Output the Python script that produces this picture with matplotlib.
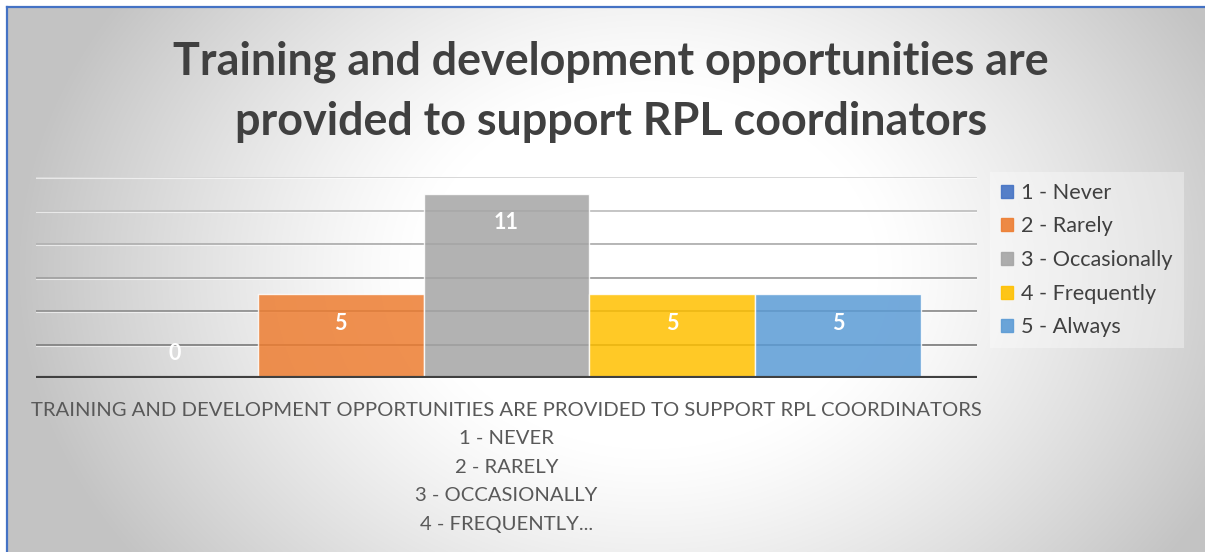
import numpy as np
import matplotlib
matplotlib.use("Agg")
import matplotlib.pyplot as plt
from matplotlib.patches import Patch

# survey responses, one bar per answer
answers = ["1 - Never", "2 - Rarely", "3 - Occasionally", "4 - Frequently", "5 - Always"]
counts = [0, 5, 11, 5, 5]
category_label = ("TRAINING AND DEVELOPMENT OPPORTUNITIES ARE PROVIDED TO SUPPORT RPL COORDINATORS\n"
                  "1 - NEVER\n2 - RARELY\n3 - OCCASIONALLY\n4 - FREQUENTLY...")
title = "Training and development opportunities are\nprovided to support RPL coordinators"

colors = ["#4472C4", "#ED7D31", "#A5A5A5", "#FFC000", "#5B9BD5"]
FONT = ["Lato", "DejaVu Sans"]
TXT = "#595959"

W, H, DPI = 1205, 552, 100
fig = plt.figure(figsize=(W / DPI, H / DPI), dpi=DPI)
fig.patch.set_facecolor("white")

# radial grey-to-white chart background
x0, y0 = 7, 7
bg = fig.add_axes([x0 / W, 0, 1 - x0 / W, 1 - y0 / H])
xx, yy = np.meshgrid(np.arange(x0, W), np.arange(y0, H))
d = np.sqrt(((xx - 650) / 600.0) ** 2 + ((yy - 270) / 470.0) ** 2)
t = np.clip((d - 0.38) / 0.68, 0, 1) ** 1.2
v = 1 - 0.235 * t
bg.imshow(np.dstack([v, v, v]), extent=[0, 1, 0, 1], aspect="auto", origin="upper",
          interpolation="bilinear")
bg.set_xlim(0, 1)
bg.set_ylim(0, 1)
bg.axis("off")
# blue frame on the top and left edges
fig.add_artist(plt.Line2D([x0 / W, x0 / W], [0, 1 - y0 / H], color="#4472C4", lw=1.6))
fig.add_artist(plt.Line2D([x0 / W, 1], [1 - y0 / H, 1 - y0 / H], color="#4472C4", lw=1.6))

# plot area
left, right, top, base = 36, 977, 177, 378
ax = fig.add_axes([left / W, 1 - base / H, (right - left) / W, (base - top) / H])
ax.set_facecolor("none")
ax.set_ylim(0, 12)
pos = np.arange(len(counts))
ax.set_xlim(-0.5 - 0.335, len(counts) - 0.5 + 0.335)

grid_cols = ["#888888", "#969696", "#a4a4a4", "#b4b4b4", "#c4c4c4", "#d6d6d6"]
for g, c in zip(range(2, 13, 2), grid_cols):
    ax.axhline(g, color=c, lw=1.4, zorder=1)
    ax.axhline(g - 0.07, color="white", lw=0.8, alpha=0.6, zorder=1)

bars = ax.bar(pos, counts, width=1.0, color=colors, alpha=0.85,
              edgecolor="#ffffff", linewidth=1.0, zorder=2)
ax.axhline(0, color="#404040", lw=3, zorder=3)

for b, n in zip(bars, counts):
    cx = b.get_x() + b.get_width() / 2
    off = -21 if n > 0 else 18
    ax.annotate(str(n), (cx, n), xytext=(0, off), textcoords="offset points",
                ha="center", va="center", color="white", fontsize=15.5,
                fontweight="bold", family=FONT, zorder=4)

ax.set_yticks([])
ax.set_xticks([pos.mean()])
ax.set_xticklabels([category_label], family=FONT, fontsize=14.6, color=TXT,
                   linespacing=1.82, va="top")
ax.tick_params(axis="x", length=0, pad=17)
for s in ax.spines.values():
    s.set_visible(False)

handles = [Patch(facecolor=c, edgecolor=c, alpha=0.9) for c in colors]
leg = fig.legend(handles, answers, loc="upper left",
                 bbox_to_anchor=(990 / W, 1 - 172 / H),
                 prop={"family": FONT, "size": 15.6}, labelcolor="#404040",
                 frameon=True, facecolor="white", framealpha=0.35, edgecolor="none",
                 fancybox=False, handlelength=0.55, handleheight=0.55,
                 handletextpad=0.4, labelspacing=0.63, borderpad=0.5,
                 borderaxespad=0)

fig.text(611 / W, 1 - 92 / H, title, ha="center", va="center", fontsize=32.3,
         fontweight="bold", color="#404040", family=FONT, linespacing=1.52)

fig.savefig("out.png", dpi=DPI)
